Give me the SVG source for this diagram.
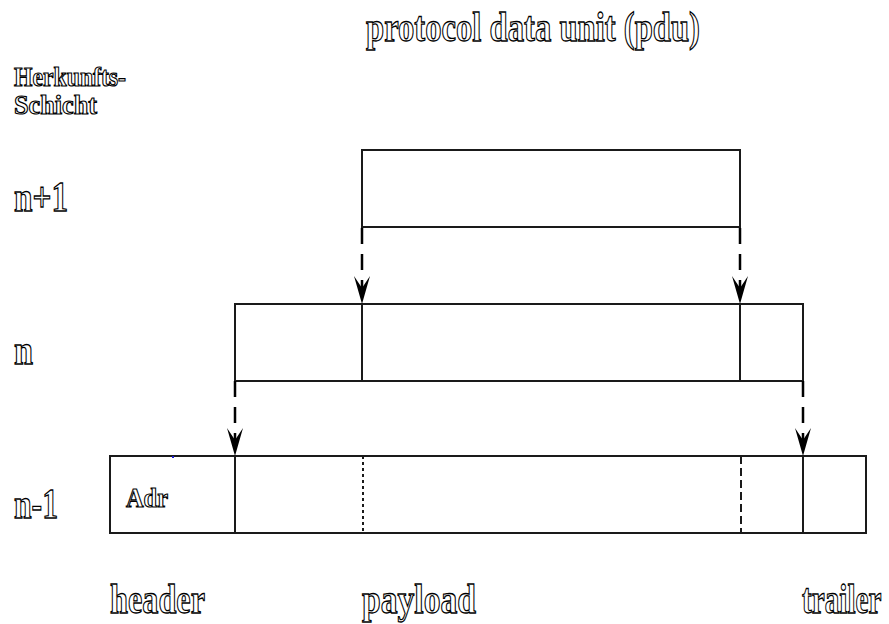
<svg xmlns="http://www.w3.org/2000/svg" width="889" height="624" viewBox="0 0 889 624">
  <defs>
    <style>
      .lbl { font-family: "Liberation Serif", "Times New Roman", serif; font-weight: bold; fill: #ffffff; stroke: #000000; stroke-width: 1.3; }
      .big { font-size: 43px; }
      .small { font-size: 28px; stroke-width: 1.2; }
      .box { fill: #ffffff; stroke: #1a1a1a; stroke-width: 2; }
      .div { stroke: #1a1a1a; stroke-width: 2; fill: none; }
      .dotted { stroke-dasharray: 3 3; }
      .dashed { stroke-dasharray: 8 4; }
      .conn { stroke: #000000; stroke-width: 2.5; fill: none; stroke-dasharray: 16 10; }
    </style>
    <marker id="head" viewBox="-28 -10 30 20" refX="0" refY="0" markerWidth="30" markerHeight="20" markerUnits="userSpaceOnUse" orient="auto">
      <path d="M0,0 L-28,-8 L-16,0 L-28,8 Z" fill="#000000"/>
    </marker>
  </defs>

  <rect width="889" height="624" fill="#ffffff"/>

  <!-- title -->
  <text class="lbl big" x="366" y="41" textLength="334" lengthAdjust="spacingAndGlyphs">protocol data unit (pdu)</text>

  <!-- layer labels -->
  <g id="layer-caption">
    <text class="lbl small" x="14" y="86" textLength="112" lengthAdjust="spacingAndGlyphs">Herkunfts-</text>
    <text class="lbl small" x="14" y="114" textLength="83" lengthAdjust="spacingAndGlyphs">Schicht</text>
  </g>
  <text class="lbl big" x="14" y="211" textLength="54" lengthAdjust="spacingAndGlyphs">n+1</text>
  <text class="lbl big" x="14" y="364" textLength="19" lengthAdjust="spacingAndGlyphs">n</text>
  <text class="lbl big" x="14" y="518" textLength="44" lengthAdjust="spacingAndGlyphs">n-1</text>

  <!-- layer n+1 pdu -->
  <g id="pdu-n1">
    <rect class="box" x="362" y="150" width="378" height="77"/>
  </g>

  <!-- layer n pdu -->
  <g id="pdu-n">
    <rect class="box" x="235" y="304" width="568" height="77"/>
    <line class="div" x1="362" y1="304" x2="362" y2="381"/>
    <line class="div" x1="740" y1="304" x2="740" y2="381"/>
  </g>

  <!-- layer n-1 pdu -->
  <g id="pdu-n-1">
    <rect class="box" x="110" y="456" width="756" height="77"/>
    <line class="div" x1="235" y1="456" x2="235" y2="533"/>
    <line class="div dotted" x1="363" y1="456" x2="363" y2="533"/>
    <line class="div dashed" x1="741" y1="456" x2="741" y2="533"/>
    <line class="div" x1="803" y1="456" x2="803" y2="533" stroke="#444444" stroke-width="1.6"/>
    <rect x="172" y="456" width="2" height="2" fill="#2020d0"/>
    <text class="lbl small" x="126" y="507" textLength="42" lengthAdjust="spacingAndGlyphs">Adr</text>
  </g>

  <!-- encapsulation arrows -->
  <g id="connectors">
    <line class="conn" x1="362" y1="228" x2="362" y2="304" marker-end="url(#head)"/>
    <line class="conn" x1="740" y1="228" x2="740" y2="304" marker-end="url(#head)"/>
    <line class="conn" x1="235" y1="381" x2="235" y2="456" marker-end="url(#head)"/>
    <line class="conn" x1="803" y1="381" x2="803" y2="456" marker-end="url(#head)"/>
  </g>

  <!-- field names -->
  <text class="lbl big" x="110" y="613" textLength="95" lengthAdjust="spacingAndGlyphs">header</text>
  <text class="lbl big" x="362" y="613" textLength="114" lengthAdjust="spacingAndGlyphs">payload</text>
  <text class="lbl big" transform="translate(802 613) scale(0.68 1)">trailer</text>
</svg>
